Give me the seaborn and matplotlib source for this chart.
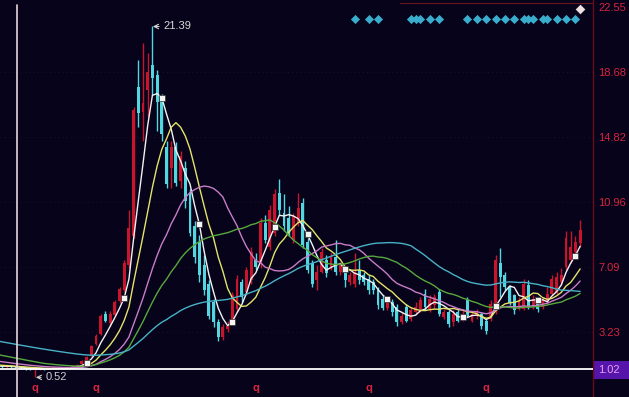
import numpy as np
import pandas as pd
import matplotlib
matplotlib.use("Agg")
import matplotlib.pyplot as plt
from matplotlib.patches import Rectangle
import seaborn as sns

# ---------------- data ----------------
# closes before the visible window (used only for the moving averages)
hist_close = [4.3, 4.2, 4.1, 4.2, 4.0, 3.9, 4.0, 3.8, 3.9, 3.7, 3.8, 3.6, 3.7, 3.5, 3.6,
              3.4, 3.5, 3.3, 3.2, 3.3, 3.1, 3.2, 3.0, 3.1, 2.9, 3.0, 2.9, 2.8, 2.9, 2.8,
              2.9, 2.8, 2.7, 2.8, 2.6, 2.7, 2.6, 2.5, 2.6, 2.5,
              2.0, 1.9, 1.9, 1.8, 1.7, 1.7, 1.6, 1.6, 1.5, 1.5,
              1.4, 1.35, 1.3, 1.3, 1.25, 1.25, 1.2, 1.2, 1.18, 1.2]

opens = [1.20, 1.15, 1.20, 1.12, 1.08, 1.05, 1.02, 0.98, 1.00, 1.04,
         1.02, 1.06, 1.08, 1.05, 1.10, 1.12, 1.18, 1.30, 1.50, 1.80,
         2.50, 3.10, 4.30, 3.75, 4.25, 5.05, 5.70, 7.20, 8.90, 17.80,
         16.30, 17.60, 19.10, 18.50, 17.20, 14.20, 13.00, 14.20, 12.20, 13.00,
         11.50, 9.50, 8.60, 7.20, 6.10, 5.00, 3.80, 2.90, 3.40, 3.90,
         4.60, 6.20, 5.60, 6.30, 7.50, 7.30, 9.70, 8.30, 9.10, 11.50,
         10.30, 10.00, 8.70, 9.70, 10.90, 8.60, 7.30, 6.30, 6.80, 7.50,
         7.10, 7.70, 6.80, 6.90, 6.20, 6.10, 6.90, 6.60, 6.40, 6.20,
         5.70, 5.20, 4.65, 5.00, 4.70, 3.80, 4.70, 4.00, 4.40, 4.60,
         5.50, 4.60, 4.80, 5.60, 4.10, 4.40, 3.80, 4.40, 4.00, 5.10,
         3.90, 4.20, 4.30, 3.90, 4.00, 4.40, 7.30, 6.60, 5.90, 5.40,
         4.60, 4.60, 6.00, 4.70, 5.10, 4.70, 5.00, 5.50, 5.60, 6.20,
         7.10, 7.50, 8.00, 8.50]
highs = [1.25, 1.25, 1.24, 1.16, 1.12, 1.09, 1.06, 1.05, 1.08, 1.07,
         1.09, 1.11, 1.10, 1.13, 1.15, 1.21, 1.30, 1.55, 1.80, 2.45,
         3.10, 4.30, 4.45, 4.45, 5.10, 5.90, 7.50, 10.50, 16.60, 19.40,
         20.40, 19.80, 21.39, 18.80, 17.40, 14.60, 14.60, 14.50, 14.00, 13.40,
         11.70, 9.80, 9.00, 7.80, 6.30, 5.20, 4.00, 3.70, 3.90, 5.60,
         6.60, 6.40, 7.10, 8.30, 7.90, 10.00, 10.20, 10.80, 11.70, 12.30,
         11.40, 10.70, 10.30, 11.50, 11.20, 8.80, 7.50, 7.20, 8.20, 7.80,
         7.90, 8.70, 7.40, 7.10, 6.80, 7.90, 7.50, 6.80, 6.60, 6.40,
         5.90, 5.40, 5.10, 5.20, 4.90, 4.40, 4.90, 4.70, 5.00, 5.30,
         5.80, 5.40, 5.50, 5.80, 4.60, 4.50, 4.50, 4.60, 4.50, 5.30,
         4.40, 4.60, 4.40, 4.00, 5.10, 7.80, 8.20, 6.80, 6.00, 5.50,
         5.30, 6.40, 6.30, 5.40, 5.30, 5.30, 5.90, 6.60, 6.80, 7.00,
         9.20, 9.20, 8.90, 9.90]
lows = [1.10, 1.10, 1.08, 1.04, 1.02, 0.98, 0.95, 0.52, 0.97, 0.98,
        1.00, 1.03, 1.01, 1.03, 1.07, 1.10, 1.15, 1.28, 1.45, 1.78,
        2.45, 3.05, 3.80, 3.60, 4.15, 4.95, 5.60, 7.00, 8.80, 15.40,
        14.60, 16.00, 17.30, 15.20, 14.60, 11.80, 11.80, 11.90, 11.80, 10.60,
        8.90, 7.30, 6.20, 5.40, 4.00, 3.50, 2.70, 2.75, 3.20, 3.80,
        4.40, 5.00, 5.40, 6.10, 6.90, 7.00, 8.50, 8.10, 8.90, 10.20,
        9.20, 8.90, 8.50, 9.50, 8.20, 6.70, 5.90, 5.70, 6.70, 6.50,
        6.90, 6.60, 6.60, 5.90, 6.00, 5.90, 6.10, 6.00, 5.50, 5.50,
        4.60, 4.50, 4.50, 4.20, 3.60, 3.70, 3.80, 3.90, 4.30, 4.40,
        4.50, 4.40, 4.60, 4.20, 4.00, 3.50, 3.60, 3.80, 3.90, 4.10,
        3.80, 4.00, 3.40, 3.10, 3.90, 4.30, 5.30, 5.70, 4.80, 4.30,
        4.50, 4.50, 4.60, 4.60, 4.40, 4.60, 4.90, 5.40, 5.50, 6.00,
        6.90, 7.30, 7.70, 8.30]
closes = [1.15, 1.20, 1.12, 1.08, 1.05, 1.02, 0.98, 1.00, 1.04, 1.02,
          1.06, 1.08, 1.05, 1.10, 1.12, 1.18, 1.25, 1.50, 1.75, 2.40,
          3.00, 4.20, 3.85, 4.30, 5.00, 5.80, 7.30, 9.40, 16.40, 16.25,
          16.84, 18.68, 18.33, 16.90, 15.00, 12.00, 14.20, 12.10, 13.70, 11.00,
          9.10, 7.70, 6.60, 5.70, 4.20, 3.80, 2.90, 3.50, 3.60, 5.40,
          6.40, 5.30, 6.90, 8.00, 7.10, 9.70, 8.70, 10.50, 11.40, 10.50,
          9.50, 9.10, 10.10, 10.60, 8.40, 6.90, 6.10, 6.80, 8.00, 6.70,
          7.70, 6.80, 7.20, 6.30, 6.60, 6.70, 6.30, 6.20, 5.70, 5.70,
          4.85, 4.65, 4.95, 4.40, 3.80, 4.20, 3.90, 4.50, 4.70, 5.10,
          4.70, 5.20, 5.30, 4.30, 4.40, 3.70, 4.30, 3.90, 4.30, 4.20,
          4.30, 4.40, 3.60, 3.30, 4.90, 7.50, 6.50, 5.90, 4.95, 4.50,
          5.10, 6.10, 4.70, 5.20, 4.60, 5.10, 5.50, 6.40, 6.50, 6.60,
          8.80, 8.30, 8.60, 9.30]

ma_periods = [5, 10, 20, 30, 60]
ma_colors = ["#f2f2f2", "#e4e46a", "#c97cc9", "#58a83e", "#48b2c6"]

axis_ticks = [22.55, 18.68, 14.82, 10.96, 7.09, 3.23, 1.02]
axis_labels = ["22.55", "18.68", "14.82", "10.96", "7.09", "3.23", "1.02"]

peak_idx, peak_val = 32, 21.39
low_idx, low_val = 7, 0.52
signal_idx = [75, 78, 80, 87, 88, 89, 91, 93, 99, 101, 103, 105, 107, 109,
              111, 112, 113, 115, 116, 118, 120, 122]
q_idx = [7, 20, 54, 78, 103]
square_idx = [18, 26, 34, 42, 49, 58, 65, 73, 82, 98, 105, 114, 122]
cursor_idx = 3.2

# ---------------- style ----------------
BG = "#06031a"
RED = "#d8243e"
UP = "#c8142c"
DOWN = "#52d6df"

sns.set_style("dark", rc={"axes.facecolor": BG, "figure.facecolor": BG})
plt.rcParams["font.family"] = ["Liberation Sans", "DejaVu Sans"]

fig = plt.figure(figsize=(6.29, 3.97), dpi=100)
ax = fig.add_axes([0, 0, 593 / 629, 1])
ax.set_facecolor(BG)

o = np.array(opens); h = np.array(highs); l = np.array(lows); c = np.array(closes)
idx = np.arange(len(c))
up = c >= o
cols = np.where(up, UP, DOWN)

# grid (dotted, very faint)
for t in axis_ticks[1:-1]:
    ax.axhline(t, color="#2a1426", lw=0.6, ls=(0, (1, 4)), zorder=0)

# candles
ax.vlines(idx, l, h, colors=cols, lw=1.0, zorder=2)
body_bottom = np.minimum(o, c)
body_h = np.maximum(np.abs(c - o), 0.05)
ax.bar(idx, body_h, bottom=body_bottom, width=0.62, color=cols, lw=0, zorder=3)

# moving averages
full = pd.Series(hist_close + closes)
x_full = np.arange(-len(hist_close), len(closes))
frames = []
for p in ma_periods:
    ma = full.rolling(p).mean()
    df = pd.DataFrame({"x": x_full, "v": ma, "ma": f"MA{p}"})
    frames.append(df[df["x"] >= -1])
ma_df = pd.concat(frames, ignore_index=True)
sns.lineplot(data=ma_df, x="x", y="v", hue="ma",
             palette=dict(zip([f"MA{p}" for p in ma_periods], ma_colors)),
             lw=1.0, legend=False, estimator=None, sort=False, ax=ax, zorder=4)

ma5 = full.rolling(5).mean().values[len(hist_close):]
ax.scatter(square_idx, ma5[square_idx], marker="s", s=20, facecolor="#f4f4f4",
           edgecolor="#303030", lw=0.5, zorder=5)

# reference lines
ax.axhline(1.02, color="#ffffff", lw=1.3, zorder=6)
ax.axvline(cursor_idx, ymin=0, ymax=0.987, color="#e6d6d8", lw=1.2, zorder=6)

# signals
ax.scatter(signal_idx, [21.84] * len(signal_idx), marker="D", s=22,
           color="#3aaccc", lw=0, zorder=5)
ax.scatter([123], [22.43], marker="D", s=24, color="#eee0e0", lw=0, zorder=5)
ax.plot([84.7, 125.8], [22.78, 22.78], color="#6a1424", lw=0.8, zorder=5)

for qi in q_idx:
    ax.text(qi, -0.14, "q", color=RED, fontsize=8, fontweight="bold",
            ha="center", va="center", zorder=7)

# annotations
ax.annotate("21.39", xy=(peak_idx + 0.1, peak_val), xytext=(34.4, peak_val),
            color="#d8d8d8", fontsize=8, va="center", ha="left",
            arrowprops=dict(arrowstyle="->", color="#d8d8d8", lw=0.8,
                            shrinkA=1, shrinkB=0), zorder=7)
ax.annotate("0.52", xy=(low_idx + 0.2, low_val), xytext=(9.3, low_val),
            color="#d0d0d0", fontsize=8, va="center", ha="left",
            arrowprops=dict(arrowstyle="->", color="#d0d0d0", lw=0.8,
                            shrinkA=1, shrinkB=0), zorder=7)

# axes
ax.set_xlim(-0.43, 125.74)
ax.set_ylim(-0.647, 22.966)
ax.set_xticks([])
ax.set_yticks(axis_ticks)
ax.set_yticklabels(axis_labels)
ax.yaxis.tick_right()
ax.tick_params(axis="y", length=0, pad=4, labelsize=8, labelcolor=RED)
ax.set_xlabel("")
ax.set_ylabel("")
ax.grid(False)
for side in ["top", "left", "bottom"]:
    ax.spines[side].set_visible(False)
ax.spines["right"].set_color("#6a0a1a")
ax.spines["right"].set_linewidth(1.0)

# purple box behind the current-value label (drawn beneath the axes)
fig.patches.append(Rectangle((594 / 629, (397 - 379) / 397), 35 / 629, 18 / 397,
                             transform=fig.transFigure, facecolor="#5514aa",
                             edgecolor="none", zorder=-5))
for lab in ax.get_yticklabels():
    if lab.get_text() == "1.02":
        lab.set_color("#e8a0f0")

fig.savefig("out.png", dpi=100, facecolor=BG)
